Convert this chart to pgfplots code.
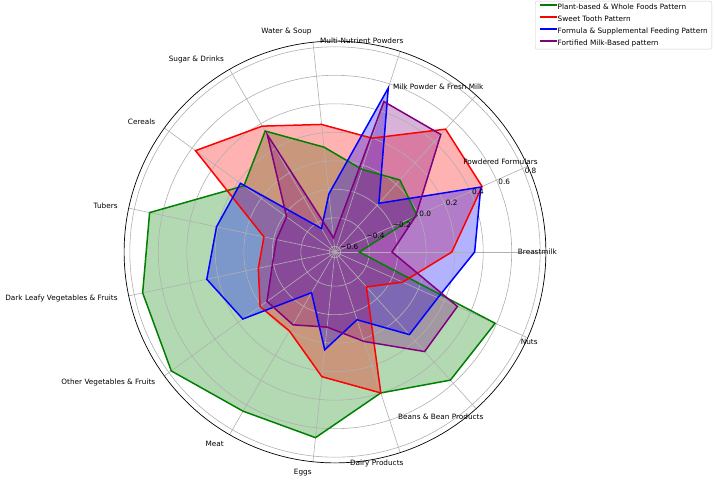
\documentclass[border=0pt]{standalone}
\usepackage{fontspec}
\setmainfont{DejaVu Sans}
\usepackage{pgfplots}
\usepackage{pgfplotstable}
\pgfplotsset{compat=1.18}

\definecolor{mplgreen}{RGB}{0,128,0}
\definecolor{mplred}{RGB}{255,0,0}
\definecolor{mplblue}{RGB}{0,0,255}
\definecolor{mplpurple}{RGB}{128,0,128}
\definecolor{gridgray}{RGB}{176,176,176}
\definecolor{legframe}{RGB}{204,204,204}

% radial scale: a value v sits at distance (v + \rzero) * \runit from the centre
\newcommand\rzero{0.64}
\newcommand\runit{142.5}
\newcommand\rspine{210.9}
\newcommand\rlabel{222}

% a = angle of the category (degrees), v = pattern loading
\pgfplotstableread{
a v
0 -0.47
24 -0.01
48 0.04
72 -0.03
96 0.10
120 0.34
144 0.15
168 0.69
192 0.74
216 0.78
240 0.65
264 0.67
288 0.40
312 0.57
336 0.59
}\plantbased

\pgfplotstableread{
a v
0 0.18
24 0.49
48 0.52
72 0.20
96 0.26
120 0.38
144 0.57
168 -0.13
192 -0.09
216 0.01
240 0.00
264 0.24
288 0.40
312 -0.31
336 -0.12
}\sweettooth

\pgfplotstableread{
a v
0 0.34
24 0.48
48 -0.18
72 0.57
96 -0.23
120 -0.45
144 0.18
168 0.21
192 0.28
216 0.16
240 -0.31
264 0.05
288 -0.14
312 0.14
336 0.15
}\formula

\pgfplotstableread{
a v
0 -0.24
24 -0.02
48 0.47
72 0.47
96 -0.54
120 0.31
144 -0.22
168 -0.22
192 -0.19
216 -0.05
240 -0.05
264 -0.11
288 0.02
312 0.30
336 0.30
}\fortified

\pgfplotsset{
  radar/.style={
    table/x expr={(\thisrow{v}+\rzero)*\runit*cos(\thisrow{a})},
    table/y expr={(\thisrow{v}+\rzero)*\runit*sin(\thisrow{a})},
  },
}

\newcommand\radarfill[2]{%
  \addplot[radar, draw=none, fill=#1, fill opacity=0.3, forget plot] table {#2} -- cycle;}
\newcommand\radarline[2]{%
  \addplot[radar, draw=#1, line width=1.5pt, line join=miter, forget plot] table {#2} -- cycle;}
% category name, right-aligned at the end of its spoke
\newcommand\category[2]{%
  \node[anchor=east, inner sep=0pt] at (axis cs:{\rlabel*cos(#1)},{\rlabel*sin(#1)}) {#2};}
% radial tick label at 22.5 degrees
\newcommand\rtick[2]{%
  \node[anchor=south west, inner sep=0pt] at (axis cs:{(#1+\rzero)*\runit*cos(22.5)},{(#1+\rzero)*\runit*sin(22.5)}) {#2};}

\begin{document}
\begin{tikzpicture}[font=\fontsize{7.3}{8.8}\selectfont]
\begin{axis}[
  width=714pt, height=479pt, scale only axis,
  xmin=-335, xmax=379, ymin=-227, ymax=252,
  hide axis, clip=false,
  legend style={
    at={(1,1)}, anchor=north east, xshift=-2pt, yshift=-1pt,
    draw=legframe, rounded corners=2pt,
    inner xsep=4pt, inner ysep=2.4pt,
    row sep=4.8pt,
    font=\fontsize{7.3}{8.8}\selectfont,
    cells={anchor=west},
    nodes={inner sep=0pt, text height=5.6pt, text depth=1.6pt},
  },
  legend image code/.code={\draw[#1] (0pt,2.4pt) -- (17pt,2.4pt);},
]
% translucent areas
\radarfill{mplgreen}{\plantbased}
\radarfill{mplred}{\sweettooth}
\radarfill{mplblue}{\formula}
\radarfill{mplpurple}{\fortified}

% polar grid
\pgfplotsinvokeforeach{-0.6,-0.4,-0.2,0,0.2,0.4,0.6,0.8}{
  \draw[gridgray, line width=0.6pt] (axis cs:0,0) circle[radius={(#1+\rzero)*\runit}];
}
\pgfplotsinvokeforeach{0,24,48,72,96,120,144,168,192,216,240,264,288,312,336}{
  \draw[gridgray, line width=0.6pt] (axis cs:0,0) -- (axis cs:{\rspine*cos(#1)},{\rspine*sin(#1)});
}
\draw[black, line width=0.7pt] (axis cs:0,0) circle[radius=\rspine];

% outlines
\radarline{mplgreen}{\plantbased}
\radarline{mplred}{\sweettooth}
\radarline{mplblue}{\formula}
\radarline{mplpurple}{\fortified}

% legend
\addlegendimage{draw=mplgreen, line width=1.5pt}
\addlegendentry{Plant-based \& Whole Foods Pattern}
\addlegendimage{draw=mplred, line width=1.5pt}
\addlegendentry{Sweet Tooth Pattern}
\addlegendimage{draw=mplblue, line width=1.5pt}
\addlegendentry{Formula \& Supplemental Feeding Pattern}
\addlegendimage{draw=mplpurple, line width=1.5pt}
\addlegendentry{Fortified Milk-Based pattern}

% radial tick labels
\rtick{-0.6}{−0.6}
\rtick{-0.4}{−0.4}
\rtick{-0.2}{−0.2}
\rtick{0}{0.0}
\rtick{0.2}{0.2}
\rtick{0.4}{0.4}
\rtick{0.6}{0.6}
\rtick{0.8}{0.8}

% category names
\category{0}{Breastmilk}
\category{24}{Powdered Formulars}
\category{48}{Milk Powder \& Fresh Milk}
\category{72}{Multi-Nutrient Powders}
\category{96}{Water \& Soup}
\category{120}{Sugar \& Drinks}
\category{144}{Cereals}
\category{168}{Tubers}
\category{192}{Dark Leafy Vegetables \& Fruits}
\category{216}{Other Vegetables \& Fruits}
\category{240}{Meat}
\category{264}{Eggs}
\category{288}{Dairy Products}
\category{312}{Beans \& Bean Products}
\category{336}{Nuts}
\end{axis}
\pgfresetboundingbox
\path (current axis.south west) rectangle (current axis.north east);
\end{tikzpicture}
\end{document}
